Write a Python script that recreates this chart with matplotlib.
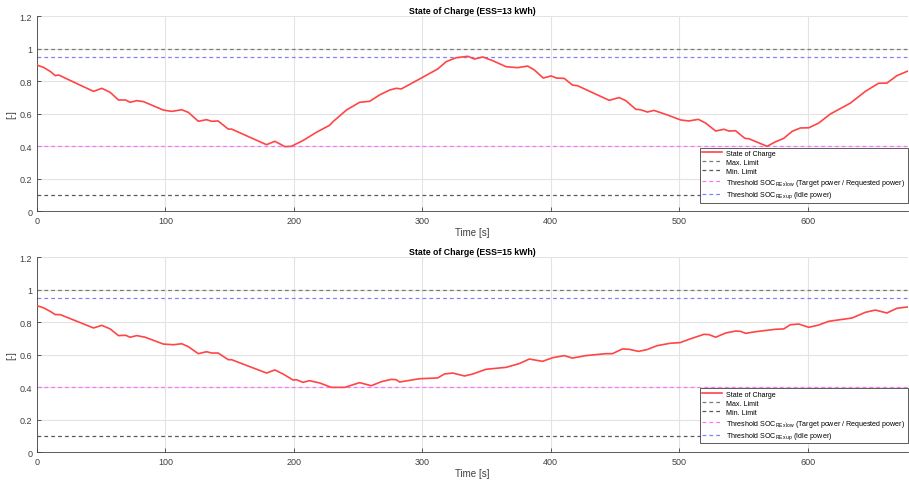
import matplotlib.pyplot as plt
import numpy as np

plt.rcParams['font.family'] = ['Liberation Sans', 'DejaVu Sans']

# SOC curve, ESS = 13 kWh
t13 = [0, 5, 10.3, 14.2, 16.8, 44, 50.5, 57, 63.4, 69, 72.5, 77.7, 82.9, 98.4, 104.9,
       112.7, 117.8, 125.6, 132, 136, 141, 148.9, 151.5, 178.7, 185.2, 193, 198, 207,
       217.5, 227.9, 230.5, 240.9, 251.2, 259, 266.7, 274.5, 279.7, 283.6, 297.8, 312,
       318.6, 326.3, 335.4, 340.6, 347, 354.8, 365.2, 374.2, 382, 387.2, 394.2, 400.2,
       404.6, 410.5, 416.9, 420.8, 445.5, 453.3, 458.4, 466.2, 470, 475.2, 480.4, 490.8,
       501.2, 507.6, 514.9, 520.6, 528.4, 534.8, 538.7, 543.9, 551.1, 554.2, 568.4, 575,
       581.4, 587.9, 594.4, 600.9, 608.6, 617.7, 633.3, 644.9, 655.2, 661.7, 669.5, 678]
soc13 = [0.900, 0.886, 0.861, 0.835, 0.839, 0.738, 0.757, 0.732, 0.685, 0.685, 0.671, 0.681,
         0.675, 0.623, 0.615, 0.625, 0.609, 0.554, 0.564, 0.554, 0.556, 0.506, 0.506, 0.410,
         0.431, 0.398, 0.400, 0.435, 0.486, 0.530, 0.552, 0.623, 0.671, 0.677, 0.716, 0.746,
         0.757, 0.753, 0.814, 0.876, 0.921, 0.945, 0.954, 0.937, 0.950, 0.927, 0.890, 0.884,
         0.894, 0.870, 0.820, 0.833, 0.820, 0.818, 0.777, 0.773, 0.683, 0.700, 0.681, 0.628,
         0.625, 0.611, 0.621, 0.593, 0.562, 0.556, 0.566, 0.543, 0.494, 0.505, 0.494, 0.496,
         0.449, 0.447, 0.400, 0.428, 0.449, 0.492, 0.513, 0.514, 0.543, 0.599, 0.666, 0.738,
         0.788, 0.789, 0.835, 0.863]

# SOC curve, ESS = 15 kWh
t15 = [0, 5, 10.3, 14.2, 18.1, 44, 50.5, 57, 63.4, 69, 72.5, 77.7, 84.2, 98.4, 106.2,
       112.7, 117.8, 125.6, 132, 136, 141, 148.9, 151.5, 178.7, 185.2, 191.6, 199.4, 202,
       207, 212.2, 220.1, 229.2, 239.6, 251.2, 260.3, 268.1, 275.8, 279.7, 282.3, 297.8,
       312, 317.2, 323.7, 332.8, 339.2, 349.6, 365.2, 375.5, 383.3, 393.6, 401.4, 410.5,
       416.9, 427.3, 442.9, 448, 455.8, 461, 468.3, 474.9, 482.7, 493, 500.8, 507.6, 519.3,
       523.2, 528.4, 536.2, 543.9, 547.8, 551.7, 559.4, 575, 581.4, 586.6, 593.1, 600.9,
       608.6, 616.4, 634.5, 644.9, 652.7, 661.7, 669.5, 678]
soc15 = [0.901, 0.888, 0.866, 0.846, 0.846, 0.764, 0.780, 0.758, 0.717, 0.719, 0.707, 0.717,
         0.707, 0.665, 0.661, 0.667, 0.649, 0.606, 0.618, 0.610, 0.610, 0.569, 0.569, 0.487,
         0.506, 0.481, 0.444, 0.446, 0.430, 0.440, 0.426, 0.399, 0.399, 0.428, 0.409, 0.434,
         0.448, 0.446, 0.432, 0.452, 0.457, 0.481, 0.487, 0.469, 0.481, 0.510, 0.522, 0.545,
         0.573, 0.559, 0.581, 0.594, 0.579, 0.594, 0.606, 0.606, 0.635, 0.633, 0.620, 0.631,
         0.655, 0.670, 0.674, 0.694, 0.725, 0.723, 0.707, 0.733, 0.745, 0.743, 0.731, 0.741,
         0.756, 0.758, 0.784, 0.788, 0.768, 0.782, 0.805, 0.825, 0.860, 0.874, 0.856, 0.885,
         0.893]

soc_max = 1.0
soc_min = 0.1
soc_low = 0.4
soc_up = 0.95

runs = [
    ('State of Charge (ESS=13 kWh)', t13, soc13),
    ('State of Charge (ESS=15 kWh)', t15, soc15),
]

fig = plt.figure(figsize=(9.09, 4.81), dpi=100)
positions = [[0.0407, 0.5586, 0.958, 0.4054], [0.0407, 0.0576, 0.958, 0.406]]

dash = (0, (3, 2.5))
for pos, (title, t, soc) in zip(positions, runs):
    ax = fig.add_axes(pos)
    ax.plot(t, soc, color='#ff4545', lw=1.2, label='State of Charge', zorder=5)
    ax.axhline(soc_max, color='#7a7a7a', lw=0.9, ls=dash, label='Max. Limit')
    ax.axhline(soc_min, color='#5a5a5a', lw=0.9, ls=dash, label='Min. Limit')
    ax.axhline(soc_low, color='#ff70ff', lw=0.9, ls=dash,
               label=r"Threshold SOC$_{\mathregular{REx'low}}$ (Target power / Requested power)")
    ax.axhline(soc_up, color='#8080ff', lw=0.9, ls=dash,
               label=r"Threshold SOC$_{\mathregular{REx'up}}$ (Idle power)")

    ax.set_xlim(0, 678)
    ax.set_ylim(0, 1.2)
    ax.set_xticks([0, 100, 200, 300, 400, 500, 600])
    ax.set_yticks([0, 0.2, 0.4, 0.6, 0.8, 1.0, 1.2])
    ax.set_yticklabels(['0', '0.2', '0.4', '0.6', '0.8', '1', '1.2'])
    ax.grid(True, color='#e3e3e3', lw=0.8)
    ax.set_axisbelow(True)
    for side in ['top', 'right']:
        ax.spines[side].set_visible(False)
    for side in ['left', 'bottom']:
        ax.spines[side].set_color('#404040')
        ax.spines[side].set_linewidth(0.6)
    ax.tick_params(direction='in', length=3, width=0.6, colors='#404040', labelsize=6.5)
    ax.set_title(title, fontsize=6.3, fontweight='bold', pad=2.5)
    ax.set_xlabel('Time [s]', fontsize=7, color='#404040', labelpad=1.5)
    ax.set_ylabel('[-]', fontsize=7, color='#404040', labelpad=2)

    leg = ax.legend(loc='lower right', bbox_to_anchor=(1.004, 0.027), fontsize=5.1,
                    handlelength=2.9, handletextpad=0.6, labelspacing=0.28, borderpad=0.3,
                    fancybox=False, framealpha=1, edgecolor='#404040')
    leg.get_frame().set_linewidth(0.6)

fig.savefig('out.png', dpi=100)
